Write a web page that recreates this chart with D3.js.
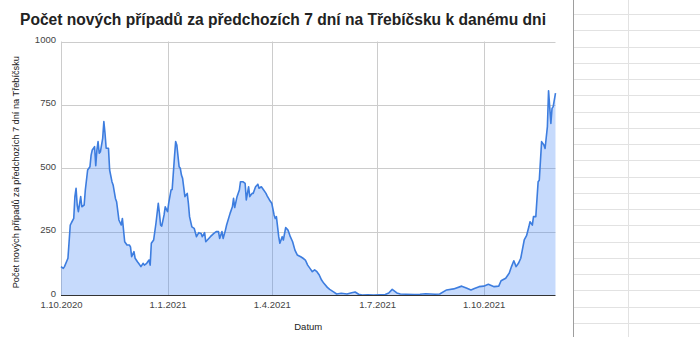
<!DOCTYPE html>
<html>
<head>
<meta charset="utf-8">
<script src="https://cdn.jsdelivr.net/npm/d3@7"></script>
<style>
  body { margin: 0; background: #fff; }
  svg { display: block; font-family: "Liberation Sans", Arial, sans-serif; }
</style>
</head>
<body>
<svg id="chart" width="700" height="337"></svg>
<script>
// dates (d.m.yyyy) and 7-day case counts
const dates = [
  "1.10.2020","3.10.2020","4.10.2020","7.10.2020","9.10.2020","10.10.2020","12.10.2020","13.10.2020","14.10.2020","15.10.2020",
  "16.10.2020","18.10.2020","19.10.2020","21.10.2020","22.10.2020","24.10.2020","26.10.2020","27.10.2020","28.10.2020","30.10.2020",
  "31.10.2020","1.11.2020","2.11.2020","3.11.2020","4.11.2020","6.11.2020","7.11.2020","8.11.2020","9.11.2020","11.11.2020",
  "12.11.2020","14.11.2020","15.11.2020","17.11.2020","18.11.2020","20.11.2020","22.11.2020","23.11.2020","24.11.2020","25.11.2020",
  "27.11.2020","29.11.2020","30.11.2020","1.12.2020","3.12.2020","4.12.2020","6.12.2020","7.12.2020","9.12.2020","11.12.2020",
  "12.12.2020","14.12.2020","16.12.2020","17.12.2020","18.12.2020","20.12.2020","22.12.2020","24.12.2020","25.12.2020","26.12.2020",
  "27.12.2020","29.12.2020","30.12.2020","1.1.2021","2.1.2021","4.1.2021","5.1.2021","7.1.2021","8.1.2021","9.1.2021",
  "11.1.2021","12.1.2021","13.1.2021","14.1.2021","16.1.2021","18.1.2021","19.1.2021","20.1.2021","22.1.2021","24.1.2021",
  "26.1.2021","28.1.2021","30.1.2021","31.1.2021","2.2.2021","3.2.2021","5.2.2021","7.2.2021","10.2.2021","12.2.2021",
  "14.2.2021","15.2.2021","17.2.2021","18.2.2021","20.2.2021","21.2.2021","24.2.2021","26.2.2021","27.2.2021","28.2.2021",
  "2.3.2021","4.3.2021","5.3.2021","7.3.2021","9.3.2021","10.3.2021","12.3.2021","13.3.2021","15.3.2021","16.3.2021",
  "18.3.2021","20.3.2021","21.3.2021","23.3.2021","25.3.2021","27.3.2021","28.3.2021","30.3.2021","1.4.2021","3.4.2021",
  "4.4.2021","5.4.2021","7.4.2021","8.4.2021","10.4.2021","11.4.2021","13.4.2021","15.4.2021","17.4.2021","19.4.2021",
  "21.4.2021","23.4.2021","26.4.2021","28.4.2021","30.4.2021","2.5.2021","4.5.2021","6.5.2021","8.5.2021","10.5.2021",
  "12.5.2021","14.5.2021","16.5.2021","19.5.2021","21.5.2021","24.5.2021","27.5.2021","31.5.2021","5.6.2021","9.6.2021",
  "12.6.2021","15.6.2021","18.6.2021","23.6.2021","28.6.2021","3.7.2021","8.7.2021","11.7.2021","14.7.2021","18.7.2021",
  "21.7.2021","26.7.2021","2.8.2021","7.8.2021","12.8.2021","16.8.2021","20.8.2021","24.8.2021","30.8.2021","5.9.2021",
  "12.9.2021","16.9.2021","20.9.2021","23.9.2021","27.9.2021","1.10.2021","5.10.2021","10.10.2021","14.10.2021","16.10.2021",
  "20.10.2021","23.10.2021","25.10.2021","27.10.2021","29.10.2021","31.10.2021","2.11.2021","5.11.2021","7.11.2021","9.11.2021",
  "10.11.2021","12.11.2021","13.11.2021","15.11.2021","17.11.2021","18.11.2021","20.11.2021","22.11.2021","23.11.2021","25.11.2021",
  "26.11.2021","28.11.2021","29.11.2021","30.11.2021","2.12.2021"
];
const cases = [
  112,105,112,145,276,285,302,388,421,355,
  329,388,348,355,414,493,506,552,572,585,
  510,572,605,559,565,618,684,638,579,579,
  493,447,434,381,368,296,276,302,256,210,
  197,197,190,151,171,145,131,125,112,125,
  118,125,138,118,204,217,283,362,322,276,
  272,316,348,329,362,414,416,546,605,592,
  506,500,473,460,388,401,362,309,269,263,
  230,246,243,230,246,210,220,230,243,250,
  250,223,250,223,256,276,322,348,381,345,
  388,414,447,447,440,375,427,388,401,401,
  427,437,421,427,414,401,391,375,362,316,
  302,309,230,204,230,217,266,256,230,210,
  177,158,151,145,138,118,105,92,99,92,
  79,59,46,30,22,13,4,7,4,9,
  12,3,0,1,0,1,2,8,22,8,
  4,3,2,3,5,4,3,4,20,24,
  35,28,20,26,33,35,42,33,35,56,
  66,86,112,135,112,125,145,217,234,269,
  289,276,309,309,447,453,605,592,578,664,
  806,677,736,743,796
];
const yTicks = [0, 250, 500, 750, 1000];
const xTickLabels = ["1.10.2020", "1.1.2021", "1.4.2021", "1.7.2021", "1.10.2021"];

const title = "Počet nových případů za předchozích 7 dní na Třebíčsku k danému dni";
const yTitle = "Počet nových případů za předchozích 7 dní na Třebíčsku";
const xTitle = "Datum";

const parse = d3.timeParse("%d.%m.%Y");
const data = dates.map((d, i) => ({ date: parse(d), value: cases[i] }));
const xTicks = xTickLabels.map(parse);

const svg = d3.select("#chart");

// spreadsheet cells on the right
const sheet = svg.append("g");
sheet.selectAll("line.row")
  .data(d3.range(14, 337, 16.25))
  .join("line")
  .attr("x1", 573).attr("x2", 700)
  .attr("y1", d => Math.round(d) + 0.5).attr("y2", d => Math.round(d) + 0.5)
  .attr("stroke", "#e2e2e2");
sheet.append("line").attr("x1", 628.5).attr("x2", 628.5).attr("y1", 0).attr("y2", 337).attr("stroke", "#e2e2e2");
sheet.append("line").attr("x1", 573.5).attr("x2", 573.5).attr("y1", 0).attr("y2", 337).attr("stroke", "#9e9e9e");

const x = d3.scaleTime()
  .domain(d3.extent(data, d => d.date))
  .range([61, 555.5]);
const y = d3.scaleLinear()
  .domain([0, 1000])
  .range([295, 41.5]);

// gridlines
svg.append("g")
  .selectAll("line")
  .data(yTicks.filter(d => d > 0))
  .join("line")
  .attr("x1", x.range()[0]).attr("x2", x.range()[1])
  .attr("y1", d => Math.round(y(d)) + 0.5).attr("y2", d => Math.round(y(d)) + 0.5)
  .attr("stroke", "#cccccc");
svg.append("g")
  .selectAll("line")
  .data(xTicks)
  .join("line")
  .attr("x1", d => Math.round(x(d)) + 0.5).attr("x2", d => Math.round(x(d)) + 0.5)
  .attr("y1", y(1000)).attr("y2", y(0))
  .attr("stroke", "#cccccc");

// area + line
const area = d3.area()
  .x(d => x(d.date))
  .y0(y(0))
  .y1(d => y(d.value));
const line = d3.line()
  .x(d => x(d.date))
  .y(d => y(d.value));

svg.append("path")
  .datum(data)
  .attr("fill", "#4285f4")
  .attr("fill-opacity", 0.3)
  .attr("d", area);
svg.append("path")
  .datum(data)
  .attr("fill", "none")
  .attr("stroke", "#3d7ddf")
  .attr("stroke-width", 1.6)
  .attr("stroke-linejoin", "round")
  .attr("d", line);

// baseline
svg.append("line")
  .attr("x1", x.range()[0]).attr("x2", x.range()[1])
  .attr("y1", y(0) + 0.5).attr("y2", y(0) + 0.5)
  .attr("stroke", "#333333");

// y axis labels
const yAxis = d3.axisLeft(y).tickValues(yTicks).tickFormat(d3.format("d")).tickSize(0).tickPadding(5);
svg.append("g")
  .attr("transform", `translate(${x.range()[0]},-2)`)
  .call(yAxis)
  .call(g => g.select(".domain").remove())
  .call(g => g.selectAll("text").attr("fill", "#444").attr("font-size", "9.5px").attr("font-family", null));

// x axis labels
const xAxis = d3.axisBottom(x).tickValues(xTicks).tickFormat(d3.timeFormat("%-d.%-m.%Y")).tickSize(0).tickPadding(6);
svg.append("g")
  .attr("transform", `translate(0,${y(0)})`)
  .call(xAxis)
  .call(g => g.select(".domain").remove())
  .call(g => g.selectAll("text").attr("fill", "#444").attr("font-size", "9.5px").attr("font-family", null));

// titles
svg.append("text")
  .attr("x", 20).attr("y", 25)
  .attr("font-size", "15.6px")
  .attr("font-weight", "bold")
  .attr("fill", "#222")
  .text(title);

svg.append("text")
  .attr("transform", `translate(19,${(y(0) + y(1000)) / 2 + 4}) rotate(-90)`)
  .attr("text-anchor", "middle")
  .attr("font-size", "9.2px")
  .attr("fill", "#222")
  .text(yTitle);

svg.append("text")
  .attr("x", (x.range()[0] + x.range()[1]) / 2)
  .attr("y", 330)
  .attr("text-anchor", "middle")
  .attr("font-size", "9.5px")
  .attr("fill", "#222")
  .text(xTitle);
</script>
</body>
</html>
